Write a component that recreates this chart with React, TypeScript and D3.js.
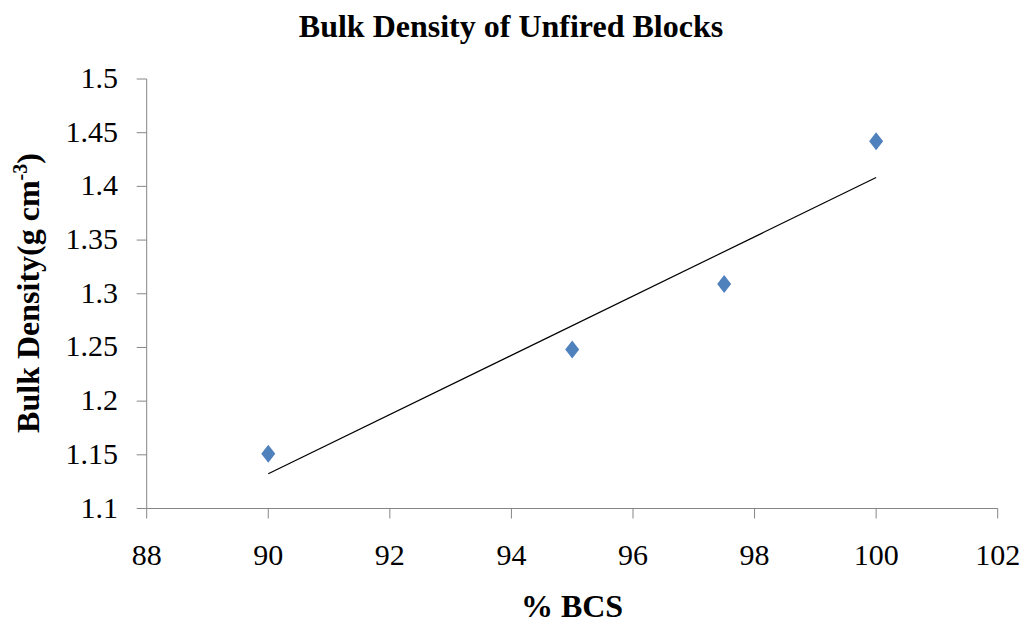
import React from "react";
import * as d3 from "d3";

const bcs = [90, 95, 97.5, 100];
const density = [1.151, 1.248, 1.309, 1.442];
const xTicks = [88, 90, 92, 94, 96, 98, 100, 102];
const yTicks = [1.1, 1.15, 1.2, 1.25, 1.3, 1.35, 1.4, 1.45, 1.5];

export default function App() {
  const W = 1024, H = 626;
  const x = d3.scaleLinear().domain([88, 102]).range([146.7, 997.7]);
  const y = d3.scaleLinear().domain([1.1, 1.5]).range([508.5, 79]);
  const mx = d3.mean(bcs)!, my = d3.mean(density)!;
  let sxy = 0, sxx = 0;
  bcs.forEach((v, i) => { sxy += (v - mx) * (density[i] - my); sxx += (v - mx) ** 2; });
  const slope = sxy / sxx, icpt = my - slope * mx;
  const x0 = d3.min(bcs)!, x1 = d3.max(bcs)!;
  const axisColor = "#868686";
  const font = "'Liberation Serif', 'Times New Roman', serif";
  return (
    <svg width={W} height={H} style={{ position: "absolute", left: 0, top: 0, background: "#fff" }} fontFamily={font}>
      <text x={511} y={37} textAnchor="middle" fontSize={32} fontWeight="bold">Bulk Density of Unfired Blocks</text>
      <line x1={x(88)} x2={x(88)} y1={y(1.5)} y2={y(1.1)} stroke={axisColor} strokeWidth={1} />
      <line x1={x(88)} x2={x(102)} y1={y(1.1)} y2={y(1.1)} stroke={axisColor} strokeWidth={1} />
      {yTicks.map((t) => (
        <g key={"y" + t}>
          <line x1={x(88) - 10} x2={x(88)} y1={y(t)} y2={y(t)} stroke={axisColor} />
          <text x={118} y={y(t) + 9} textAnchor="end" fontSize={30}>{String(t)}</text>
        </g>
      ))}
      {xTicks.map((t) => (
        <g key={"x" + t}>
          <line x1={x(t)} x2={x(t)} y1={y(1.1)} y2={y(1.1) + 10} stroke={axisColor} />
          <text x={x(t)} y={565} textAnchor="middle" fontSize={30}>{String(t)}</text>
        </g>
      ))}
      <line x1={x(x0)} y1={y(icpt + slope * x0)} x2={x(x1)} y2={y(icpt + slope * x1)} stroke="#000" strokeWidth={1.2} />
      {bcs.map((v, i) => {
        const cx = x(v), cy = y(density[i]);
        return <path key={i} d={`M${cx},${cy - 9}L${cx + 7},${cy}L${cx},${cy + 9}L${cx - 7},${cy}Z`} fill="#4f81bd" />;
      })}
      <text transform="translate(39,293) rotate(-90)" textAnchor="middle" fontSize={32} fontWeight="bold">
        Bulk Density(g cm<tspan dy={-12} fontSize={20}>-3</tspan><tspan dy={12}>)</tspan>
      </text>
      <text x={572} y={617} textAnchor="middle" fontSize={32} fontWeight="bold">% BCS</text>
    </svg>
  );
}
